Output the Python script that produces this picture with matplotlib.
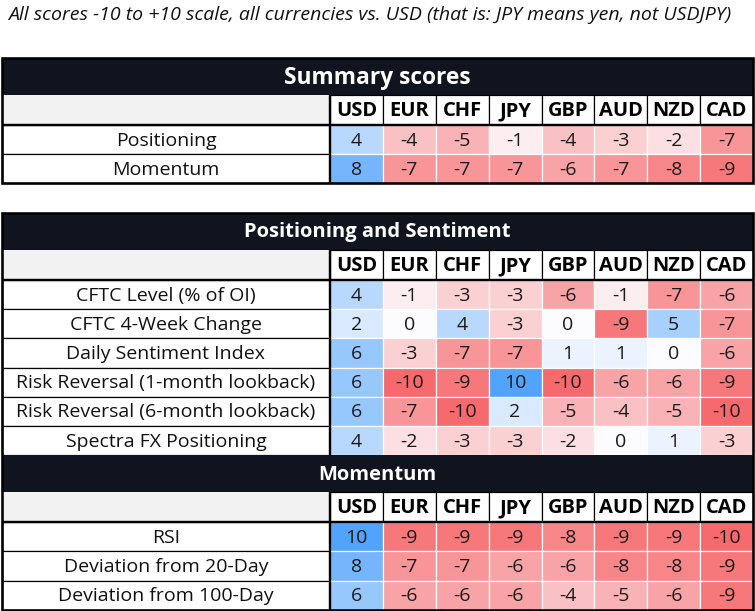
import numpy as np
import matplotlib.pyplot as plt
from matplotlib.patches import Rectangle
from matplotlib.colors import to_rgb

plt.rcParams['font.family'] = ['Open Sans', 'DejaVu Sans']

currencies = ['USD', 'EUR', 'CHF', 'JPY', 'GBP', 'AUD', 'NZD', 'CAD']

summary_rows = ['Positioning', 'Momentum']
summary_vals = [
    [4, -4, -5, -1, -4, -3, -2, -7],
    [8, -7, -7, -7, -6, -7, -8, -9],
]

pos_rows = ['CFTC Level (% of OI)', 'CFTC 4-Week Change', 'Daily Sentiment Index',
            'Risk Reversal (1-month lookback)', 'Risk Reversal (6-month lookback)',
            'Spectra FX Positioning']
pos_vals = [
    [4, -1, -3, -3, -6, -1, -7, -6],
    [2, 0, 4, -3, 0, -9, 5, -7],
    [6, -3, -7, -7, 1, 1, 0, -6],
    [6, -10, -9, 10, -10, -6, -6, -9],
    [6, -7, -10, 2, -5, -4, -5, -10],
    [4, -2, -3, -3, -2, 0, 1, -3],
]

mom_rows = ['RSI', 'Deviation from 20-Day', 'Deviation from 100-Day']
mom_vals = [
    [10, -9, -9, -9, -8, -9, -9, -10],
    [8, -7, -7, -6, -6, -8, -8, -9],
    [6, -6, -6, -6, -4, -5, -6, -9],
]

subtitle = 'All scores -10 to +10 scale, all currencies vs. USD (that is: JPY means yen, not USDJPY)'

W, H = 755, 611
fig = plt.figure(figsize=(W / 100, H / 100), dpi=100)
ax = fig.add_axes([0, 0, 1, 1])
ax.set_xlim(0, W)
ax.set_ylim(H, 0)
ax.axis('off')

NAVY = '#10141f'
WHITE0 = np.array(to_rgb('#fcfcff'))
BLUE = np.array(to_rgb('#52a3fb'))
RED = np.array(to_rgb('#f6696c'))

X0, X1 = 2, 753
XL = 330
CW = (X1 - XL) / len(currencies)
TITLE_H = 37
HEAD_H = 30
ROW_H = 29.2
PX = 0.72  # points per pixel
FS = 14


def score_color(v):
    t = min(abs(v) / 10, 1)
    c = BLUE if v > 0 else RED
    return tuple(WHITE0 + (c - WHITE0) * t)


def section(y, title, rows, vals, title_size):
    # title bar
    ax.add_patch(Rectangle((X0, y), X1 - X0, TITLE_H, fc=NAVY, ec='none'))
    ax.text((X0 + X1) / 2, y + TITLE_H / 2 + 1, title, color='white', fontsize=title_size,
            fontweight='bold', ha='center', va='center')
    y += TITLE_H
    # currency header
    ax.add_patch(Rectangle((X0, y), XL - X0, HEAD_H, fc='#f2f2f2', ec='none'))
    for j, cur in enumerate(currencies):
        x = XL + j * CW
        ax.add_patch(Rectangle((x, y), CW, HEAD_H, fc='white', ec='black', lw=1.2 * PX))
        ax.text(x + CW / 2, y + HEAD_H / 2 + 1, cur, fontsize=14.5, fontweight='bold',
                ha='center', va='center', color='black')
    y += HEAD_H
    top = y
    for i, (name, row) in enumerate(zip(rows, vals)):
        ry = top + i * ROW_H
        ax.add_patch(Rectangle((X0, ry), XL - X0, ROW_H, fc='white', ec='black', lw=1.2 * PX))
        ax.text((X0 + XL) / 2, ry + ROW_H / 2 + 1, name, fontsize=FS,
                ha='center', va='center', color='#111111')
        for j, v in enumerate(row):
            x = XL + j * CW
            ax.add_patch(Rectangle((x, ry), CW, ROW_H, fc=score_color(v), ec='white', lw=1.2 * PX))
            ax.text(x + CW / 2, ry + ROW_H / 2 + 1, str(v), fontsize=FS,
                    ha='center', va='center', color='#1a1a1a')
    bottom = top + len(rows) * ROW_H
    # thick separators
    ax.plot([X0, X1], [top, top], color='black', lw=2.4 * PX, solid_capstyle='butt')
    ax.plot([XL, XL], [top - HEAD_H, bottom], color='black', lw=2.4 * PX, solid_capstyle='butt')
    return bottom


ax.text(8, 15, subtitle, fontsize=14, style='italic', ha='left', va='center', color='#111111')

y1 = 58
b1 = section(y1, 'Summary scores', summary_rows, summary_vals, 16.4)
ax.add_patch(Rectangle((X0, y1), X1 - X0, b1 - y1, fc='none', ec='black', lw=2.6 * PX))

y2 = 213
b2 = section(y2, 'Positioning and Sentiment', pos_rows, pos_vals, 14.5)
b3 = section(b2, 'Momentum', mom_rows, mom_vals, 14.5)
ax.add_patch(Rectangle((X0, y2), X1 - X0, b3 - y2, fc='none', ec='black', lw=2.6 * PX))

fig.savefig('out.png', dpi=100)
